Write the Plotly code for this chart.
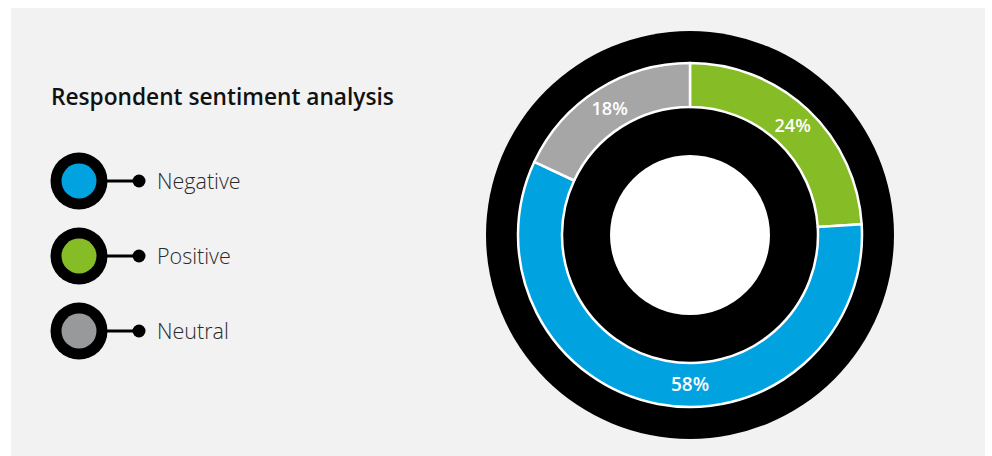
import plotly.graph_objects as go

# Sentiment shares (percent), in legend order
categories = ["Negative", "Positive", "Neutral"]
shares = [58, 24, 18]
# Order of the slices going clockwise from 12 o'clock
ring_order = ["Positive", "Negative", "Neutral"]

ring_colors = {"Negative": "#00A3E0", "Positive": "#86BC25", "Neutral": "#A6A6A6"}
legend_colors = {"Negative": "#00A3E0", "Positive": "#86BC25", "Neutral": "#98999B"}

title_text = "Respondent sentiment analysis"

W, H = 992, 456
FONT = "Open Sans"

# Chart centre and radii in pixels
cx, cy = 690, 235
r_outer, r_ring_out, r_ring_in, r_hole = 204, 172, 128, 80


def dom(r):
    return dict(x=[(cx - r) / W, (cx + r) / W], y=[1 - (cy + r) / H, 1 - (cy - r) / H])


share_of = dict(zip(categories, shares))
ring_vals = [share_of[c] for c in ring_order]

fig = go.Figure()

# Black backdrop disk
fig.add_trace(go.Pie(values=[1], domain=dom(r_outer), marker=dict(colors=["#000000"], line=dict(width=0)),
                     textinfo="none", hoverinfo="skip", sort=False, showlegend=False))

# Sentiment ring
fig.add_trace(go.Pie(
    labels=ring_order, values=ring_vals, domain=dom(r_ring_out), hole=r_ring_in / r_ring_out,
    sort=False, direction="clockwise", rotation=0,
    marker=dict(colors=[ring_colors[c] for c in ring_order], line=dict(color="white", width=2.5)),
    texttemplate="%{value}%", textposition="inside", insidetextorientation="horizontal",
    insidetextfont=dict(family=FONT, size=19, color="white", weight=600),
    hoverinfo="label+percent", showlegend=False,
))

# White centre disk
fig.add_trace(go.Pie(values=[1], domain=dom(r_hole), marker=dict(colors=["#FFFFFF"], line=dict(width=0)),
                     textinfo="none", hoverinfo="skip", sort=False, showlegend=False))

# Custom legend: ringed swatch, connector line and dot, label
row0, row_step = 181, 75
sw_x, line_x0, dot_x, label_x = 79, 100, 139, 155
annotations = []
for i, cat in enumerate(categories):
    y = row0 + row_step * i
    fig.add_trace(go.Scatter(x=[line_x0, dot_x], y=[y, y], mode="lines", line=dict(color="black", width=3),
                             hoverinfo="skip", showlegend=False))
    fig.add_trace(go.Scatter(x=[dot_x], y=[y], mode="markers", marker=dict(size=13, color="black"),
                             hoverinfo="skip", showlegend=False))
    fig.add_trace(go.Scatter(x=[sw_x], y=[y], mode="markers", marker=dict(size=57, color="black"),
                             hoverinfo="skip", showlegend=False))
    fig.add_trace(go.Scatter(x=[sw_x], y=[y], mode="markers", marker=dict(size=35, color=legend_colors[cat]),
                             hoverinfo="skip", showlegend=False))
    annotations.append(dict(x=label_x, y=y - 1, xref="x", yref="y", text=cat, showarrow=False,
                            xanchor="left", yanchor="middle",
                            font=dict(family=FONT, size=21.5, color="#2a2a2a", weight=300)))

annotations.append(dict(x=49, y=96, xref="x", yref="y", text=title_text, showarrow=False,
                        xanchor="left", yanchor="middle",
                        font=dict(family=FONT, size=22.7, color="#111111", weight=600)))

fig.update_layout(
    width=W, height=H, margin=dict(l=0, r=0, t=0, b=0),
    paper_bgcolor="white", plot_bgcolor="white",
    xaxis=dict(range=[0, W], visible=False, fixedrange=True, domain=[0, 1]),
    yaxis=dict(range=[H, 0], visible=False, fixedrange=True, domain=[0, 1]),
    shapes=[dict(type="rect", xref="x", yref="y", x0=11, x1=985, y0=8, y1=H,
                 fillcolor="#F2F2F2", line=dict(width=0), layer="below")],
    annotations=annotations,
    showlegend=False,
)

fig.write_html("out.html")
